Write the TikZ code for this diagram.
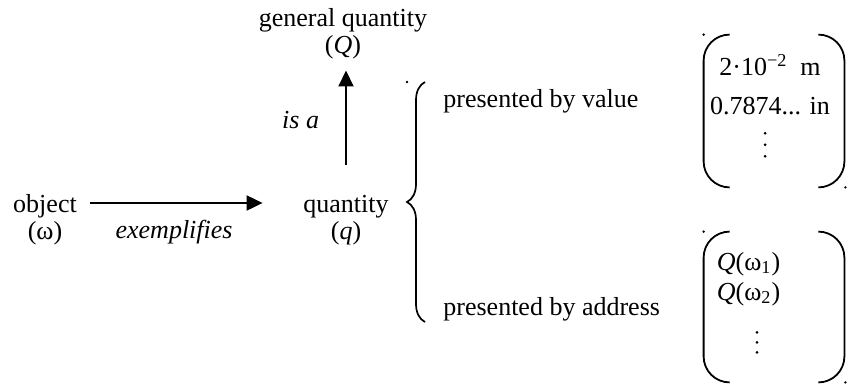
\documentclass[tikz,border=0pt]{standalone}
\usepackage{fontspec}
\setmainfont{Liberation Serif}
\usepackage{tikz}
\usetikzlibrary{positioning,arrows.meta,decorations.pathreplacing}
\tikzset{
  lbl/.style={align=center, inner sep=0pt, font=\fontsize{13}{13.5}\selectfont},
  arr/.style={-{Triangle[length=8pt, width=7.5pt]}, line width=1pt},
  brc/.style={decorate, decoration={brace, amplitude=9pt}, line width=0.85pt},
  prn/.style={rounded corners=13pt, line width=0.9pt},
  pbox/.style={minimum width=70pt, inner sep=0pt},
  speck/.style={fill, circle, inner sep=0pt, minimum size=1.3pt},
  vdot/.style={fill, circle, inner sep=0pt, minimum size=1.5pt}
}

\begin{document}
\begin{tikzpicture}[x=0.5pt, y=-0.5pt]
  \useasboundingbox (0,0) rectangle (849,385);
  % left part: object, quantity, general quantity
  \node[lbl] (obj) at (45,220) {object\\(ω)};
  \node[lbl] (qty) at (346,220) {quantity\\(\textit{q})};
  \node[lbl] (gq) at (343,33.4) {general quantity\\(\textit{Q})};
  \draw[arr, shorten <=6.5pt, shorten >=20.2pt] ([yshift=8.5pt]obj.east) -- ([yshift=8.5pt]qty.west)
    node[lbl, midway, below=8pt, xshift=-8pt] {\textit{exemplifies}};
  \draw[arr, shorten <=15pt, shorten >=5.7pt] (qty.north) -- (qty.north |- gq.south)
    node[lbl, midway, left=13pt, yshift=3.6pt] {\textit{is a}};
  % brace and the two presentations
  \coordinate (bt) at (425,82);
  \coordinate (bb) at (425,322);
  \draw[brc] (bb) -- (bt);
  \node[speck] at ([xshift=-9pt]bt) {};
  \node[lbl, anchor=west] (pv) at (443,101) {presented by value};
  \node[lbl, anchor=west] (pa) at (443,309) {presented by address};
  % column of values
  \node[pbox, minimum height=76pt] (vb) at (774,111) {};
  \node[lbl] (vals) at (770,84.8) {2·10\textsuperscript{−2}\ \ m\\[6pt]0.7874... in};
  \foreach \dy in {9,14.75,20.5}
    \node[vdot] at ([xshift=-2.5pt, yshift=-\dy pt]vals.south) {};
  % column of addresses
  \node[pbox, minimum height=75pt] (ab) at (774,307) {};
  \node[lbl] (adrs) at (748.5,278.8) {\textit{Q}(ω\textsubscript{1})\\[1.5pt]\textit{Q}(ω\textsubscript{2})};
  \foreach \dy in {13.2,18.2,23.2}
    \node[vdot] at ([xshift=4.25pt, yshift=-\dy pt]adrs.south) {};
  \foreach \b in {vb,ab} {
    \draw[prn] ([xshift=13pt]\b.north west) -- (\b.north west) -- (\b.south west) -- ([xshift=13pt]\b.south west);
    \draw[prn] ([xshift=-13pt]\b.north east) -- (\b.north east) -- (\b.south east) -- ([xshift=-13pt]\b.south east);
    \node[speck] at (\b.north west) {};
    \node[speck] at ([xshift=0.5pt]\b.south east) {};
  }
\end{tikzpicture}
\end{document}
